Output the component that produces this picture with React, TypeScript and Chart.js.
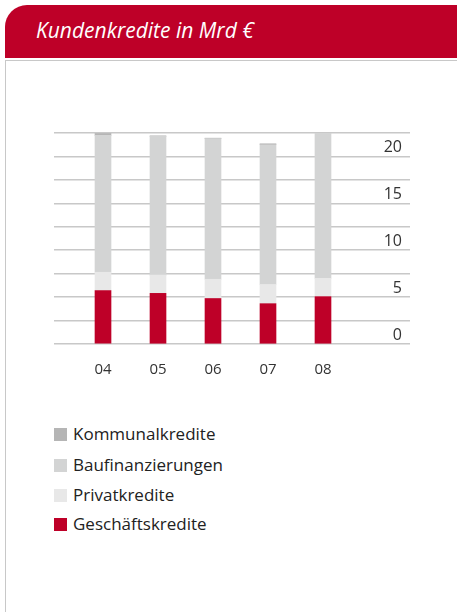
import React, { useEffect, useRef } from "react";
import { Chart, registerables } from "chart.js";

Chart.register(...registerables);

const categories = ["04", "05", "06", "07", "08"];
const geschaeftskredite = [5.7, 5.4, 4.85, 4.3, 5.05];
const privatkredite = [1.95, 1.95, 2.05, 2.05, 1.95];
const baufinanzierungen = [14.6, 14.8, 15.0, 14.9, 15.55];
const kommunalkredite = [0.2, 0.05, 0.05, 0.1, 0.12];
const yTickLabels = [0, 5, 10, 15, 20];

const RED = "#be0028";
const seriesNames = ["Geschäftskredite", "Privatkredite", "Baufinanzierungen", "Kommunalkredite"];
const seriesColors = [RED, "#e8e8e8", "#d3d4d4", "#b5b5b5"];
const seriesValues = [geschaeftskredite, privatkredite, baufinanzierungen, kommunalkredite];

const FONT = "'Open Sans', 'Noto Sans', sans-serif";

export default function App() {
  const ref = useRef<HTMLCanvasElement | null>(null);

  useEffect(() => {
    document.body.style.margin = "0";
    if (!ref.current) return;
    const chart = new Chart(ref.current, {
      type: "bar",
      data: {
        datasets: seriesValues.map((vals, si) => ({
          label: seriesNames[si],
          data: vals.map((v, i) => ({ x: i, y: v })),
          backgroundColor: seriesColors[si],
          borderWidth: 0,
          barThickness: 16,
        })),
      },
      options: {
        animation: false,
        responsive: false,
        maintainAspectRatio: false,
        layout: { padding: { top: 13, bottom: 2, left: 0, right: 0 } },
        plugins: { legend: { display: false }, tooltip: { enabled: false } },
        scales: {
          x: {
            type: "linear",
            stacked: true,
            offset: false,
            min: -0.891,
            max: 5.582,
            grid: { display: false, drawTicks: false, offset: false },
            border: { display: false },
            afterBuildTicks: (s: any) => {
              s.ticks = categories.map((_, i) => ({ value: i }));
            },
            ticks: {
              autoSkip: false,
              maxRotation: 0,
              padding: 17,
              color: "#333",
              font: { family: FONT, size: 15 },
              callback: (v: any) => categories[Math.round(Number(v))] ?? "",
            },
          },
          y: {
            position: "right",
            stacked: true,
            min: 0,
            max: 22.5,
            grid: { color: "#c8c8c8", lineWidth: 1.5, drawTicks: false },
            border: { display: false },
            ticks: {
              stepSize: 2.5,
              autoSkip: false,
              mirror: true,
              padding: -8,
              labelOffset: -9,
              color: "#333",
              font: { family: FONT, size: 16 },
              callback: (v: any) => (yTickLabels.includes(Number(v)) ? String(v) : ""),
            },
          },
        },
      },
    });
    return () => chart.destroy();
  }, []);

  const legendOrder = [3, 2, 1, 0];
  const legendTops = [434, 465, 495, 524];

  return (
    <div style={{ position: "fixed", left: 0, top: 0, width: 457, height: 612, overflow: "hidden", background: "#fff" }}>
      <div
        style={{
          position: "absolute",
          left: 5,
          top: 5,
          width: 470,
          height: 53,
          background: RED,
          borderTopLeftRadius: 22,
        }}
      />
      <div
        style={{
          position: "absolute",
          left: 36,
          top: 17,
          color: "#fff",
          fontFamily: FONT,
          fontStyle: "italic",
          fontSize: 21,
          lineHeight: "26px",
          whiteSpace: "nowrap",
        }}
      >
        Kundenkredite in Mrd €
      </div>
      <div
        style={{
          position: "absolute",
          left: 5,
          top: 60,
          width: 470,
          height: 570,
          borderTop: "1.5px solid #c8c8c8",
          borderLeft: "1.5px solid #c8c8c8",
        }}
      />
      <canvas ref={ref} width={356} height={278} style={{ position: "absolute", left: 54, top: 120, width: 356, height: 278 }} />
      {legendOrder.map((si, k) => (
        <div key={si} style={{ position: "absolute", left: 54, top: legendTops[k] - 11, height: 22, display: "flex", alignItems: "center" }}>
          <div style={{ width: 13, height: 13, background: seriesColors[si], marginRight: 6 }} />
          <span style={{ fontFamily: FONT, fontSize: 17, color: "#222", lineHeight: "22px", whiteSpace: "nowrap" }}>
            {seriesNames[si]}
          </span>
        </div>
      ))}
    </div>
  );
}
